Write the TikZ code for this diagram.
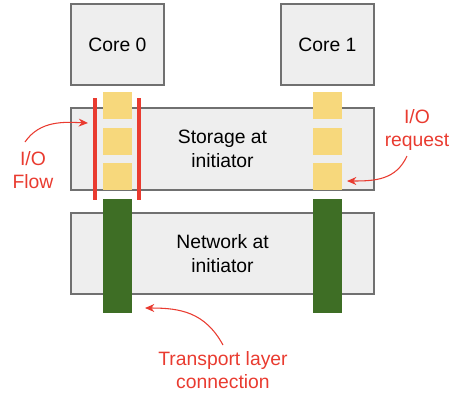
\documentclass[tikz,border=0pt]{standalone}
\usepackage{fontspec}
\setmainfont{Liberation Sans}
\usetikzlibrary{arrows.meta}
\definecolor{kutuGri}{HTML}{EEEEEE}
\definecolor{cizgiGri}{HTML}{707070}
\definecolor{istekSari}{HTML}{F7D87C}
\definecolor{baglantiYesil}{HTML}{3E6E25}
\definecolor{notKirmizi}{HTML}{E93B30}

\begin{document}
\begin{tikzpicture}[x=0.75pt, y=-0.75pt,
  every node/.style={font=\fontsize{14.5}{17.5}\selectfont, inner sep=0pt, outer sep=0pt},
  katman/.style={draw=cizgiGri, fill=kutuGri, line width=0.8pt, minimum width=227.25pt,
               align=center},
  cekirdek/.style={draw=cizgiGri, fill=kutuGri, line width=0.8pt,
               minimum width=69.75pt, minimum height=60.75pt},
  istek/.style={fill=istekSari, minimum width=21.75pt, minimum height=20.25pt},
  baglanti/.style={fill=baglantiYesil, minimum width=21.75pt, minimum height=85.5pt},
  notlar/.style={text=notKirmizi, align=center},
  okcizgi/.style={-{Stealth[length=7pt,width=6pt]}, notKirmizi, line width=0.8pt},
  akis/.style={notKirmizi, line width=2.8pt}]
\useasboundingbox (0,0) rectangle (452,394);
% cores
\node[cekirdek] (c0) at (117.5,44.5) {Core 0};
\node[cekirdek] (c1) at (327.5,44.5) {Core 1};
% layers
\node[katman, minimum height=61.5pt] (st) at (222.5,149) {Storage at\\initiator};
\node[katman, minimum height=60.75pt] (nw) at (222.5,253.5) {Network at\\initiator};
% queues
\foreach \x/\k in {117.5/a, 327.5/b}{
  \node[istek] (q\k1) at (\x,105.5) {};
  \node[istek] (q\k2) at (\x,141.5) {};
  \node[istek] (q\k3) at (\x,176.5) {};
  \node[baglanti] (t\k) at (\x,256) {};
}
% flow
\draw[akis] (95,98) -- (95,200);
\draw[akis] (139,98) -- (139,200);
% notes
\node[notlar] (akisNot) at (33,170) {I/O\\Flow};
\node[notlar] (istekNot) at (417,130) {I/O\\request};
\node[notlar] (tasimaNot) at (223,370) {Transport layer\\connection};
\coordinate (akisUc) at (88,123);
\coordinate (istekUc) at (347,181);
\coordinate (tasimaUc) at (145,308);
\draw[okcizgi] (25,142) .. controls (40,120) and (65,122) .. (akisUc);
\draw[okcizgi] (407,156) .. controls (396,180) and (375,181) .. (istekUc);
\draw[okcizgi] (223,345) .. controls (205,312) and (180,308) .. (tasimaUc);
\end{tikzpicture}
\end{document}
